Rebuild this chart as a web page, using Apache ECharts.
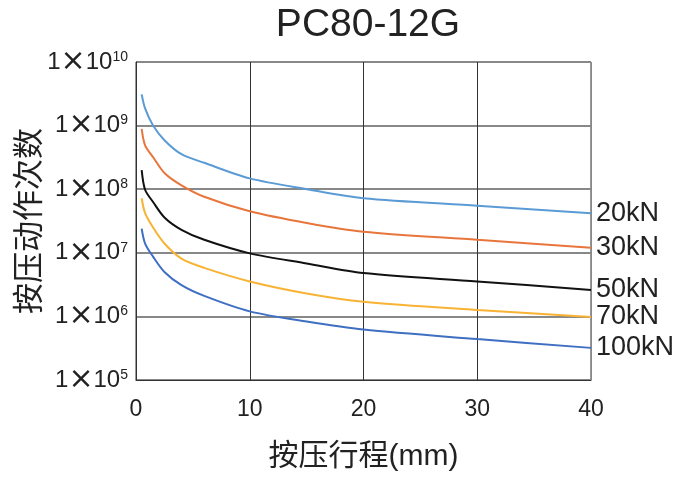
<!DOCTYPE html>
<html>
<head>
<meta charset="utf-8">
<script src="https://cdn.jsdelivr.net/npm/echarts@6/dist/echarts.min.js"></script>
<style>
    html, body { margin: 0; padding: 0; background: #fff; }
    #chart { width: 673px; height: 482px; }
</style>
</head>
<body>
<div id="chart"></div>
<script>
    // stroke (mm)
    var stroke = [0.5, 0.8, 1.5, 2.5, 4, 6, 10, 15, 20, 30, 40];
    // cycles for each load
    var n20 = [3.1e9, 1.86e9, 1.0e9, 5.9e8, 3.55e8, 2.6e8, 1.48e8, 1.0e8, 7.2e7, 5.5e7, 4.2e7];
    var n30 = [8.9e8, 4.9e8, 3.2e8, 1.8e8, 1.15e8, 7.6e7, 4.5e7, 2.95e7, 2.15e7, 1.6e7, 1.2e7];
    var n50 = [2.0e8, 9.8e7, 6.3e7, 3.6e7, 2.3e7, 1.6e7, 9.8e6, 6.8e6, 4.8e6, 3.55e6, 2.6e6];
    var n70 = [7.2e7, 4.2e7, 2.5e7, 1.4e7, 8.1e6, 5.8e6, 3.55e6, 2.3e6, 1.7e6, 1.26e6, 9.8e5];
    var n100 = [2.4e7, 1.4e7, 8.7e6, 5.0e6, 3.1e6, 2.1e6, 1.2e6, 8.3e5, 6.2e5, 4.4e5, 3.2e5];
    var loads = ['20kN', '30kN', '50kN', '70kN', '100kN'];
    var colors = ['#5b9bd5', '#e8763c', '#111111', '#f8b334', '#3f6fc2'];

    var font = 'Liberation Sans, Noto Sans CJK SC';
    var lists = [n20, n30, n50, n70, n100];

    function pairs(arr) {
        return stroke.map(function (x, i) { return [x, arr[i]]; });
    }

    var series = loads.map(function (name, i) {
        return {
            name: name,
            type: 'line',
            smooth: 0.3,
            symbol: 'none',
            lineStyle: { color: colors[i], width: 2 },
            endLabel: {
                show: true,
                formatter: '{a}',
                fontFamily: font,
                fontSize: 27,
                color: '#222',
                distance: 5
            },
            data: pairs(lists[i])
        };
    });

    var myChart = echarts.init(document.getElementById('chart'));
    myChart.setOption({
        animation: false,
        title: {
            text: 'PC80-12G',
            left: 363,
            textAlign: 'center',
            top: 1,
            textStyle: { fontFamily: font, fontSize: 39, fontWeight: 'normal', color: '#222' }
        },
        grid: {
            left: 136,
            right: 82,
            top: 62,
            bottom: 102,
            outerBoundsMode: 'none',
            show: true,
            borderColor: '#333',
            borderWidth: 1
        },
        xAxis: {
            type: 'value',
            min: 0,
            max: 40,
            interval: 10,
            name: '按压行程(mm)',
            nameLocation: 'middle',
            nameGap: 62,
            nameTextStyle: { fontFamily: font, fontSize: 30, color: '#222' },
            axisLine: { lineStyle: { color: '#333' } },
            axisTick: { show: false },
            axisLabel: { fontFamily: font, fontSize: 23, color: '#222', margin: 18 },
            splitLine: { lineStyle: { color: ['#333', '#333', '#333', '#333', '#888'], width: 1 } }
        },
        yAxis: {
            type: 'log',
            logBase: 10,
            min: 1e5,
            max: 1e10,
            name: '按压动作次数',
            nameLocation: 'middle',
            nameGap: 90,
            nameRotate: 90,
            nameMoveOverlap: false,
            nameTextStyle: { fontFamily: font, fontSize: 31, color: '#222' },
            axisLine: { lineStyle: { color: '#333' } },
            axisTick: { show: false },
            axisLabel: {
                margin: 8,
                formatter: function (v) {
                    var e = Math.round(Math.log(v) / Math.LN10);
                    return '{a|1}{x|×}{a|10}{b|' + e + '}';
                },
                rich: {
                    a: { fontFamily: font, fontSize: 24, color: '#222', lineHeight: 24 },
                    x: { fontFamily: 'DejaVu Sans', fontSize: 30, color: '#222', lineHeight: 24 },
                    b: { fontFamily: font, fontSize: 14, color: '#222', lineHeight: 14, verticalAlign: 'top' }
                }
            },
            splitLine: { lineStyle: { color: '#888', width: 2 } }
        },
        series: series
    });
</script>
</body>
</html>
